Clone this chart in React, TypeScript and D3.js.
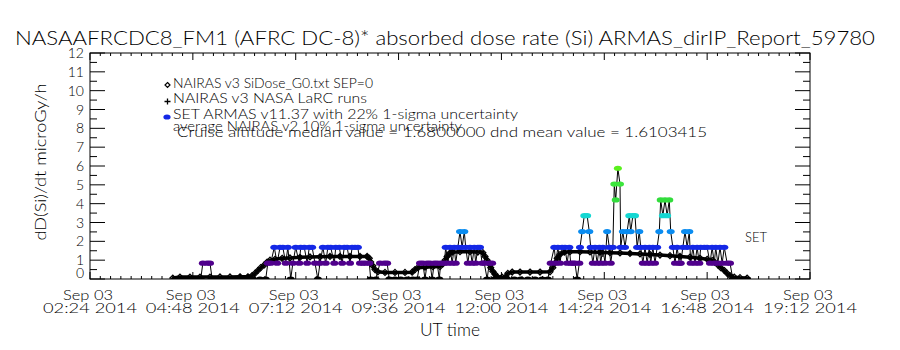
import React from "react";
import * as d3 from "d3";

const TITLE = "NASAAFRCDC8_FM1 (AFRC DC-8)* absorbed dose rate (Si) ARMAS_dirIP_Report_59780";
const Y_LABEL = "dD(Si)/dt microGy/h";
const X_LABEL = "UT time";
const SET_LABEL = "SET";
const DAY = Date.UTC(2014, 8, 3);

// time axis in minutes since 00:00 UT, Sep 03 2014
const xDomainMin = [144, 1152];
const xTickMinutes = [144, 288, 432, 576, 720, 864, 1008, 1152];
const yTicks = [0, 1, 2, 3, 4, 5, 6, 7, 8, 9, 10, 11, 12];

// NAIRAS v3 SiDose_G0 (minute, dose µGy/h)
const nairas: [number, number][] = [
  [260, 0.05], [270, 0.1], [284, 0.1], [298, 0.1], [312, 0.1], [326, 0.11], [340, 0.11], [354, 0.12], [365, 0.12],
  [371, 0.18], [375, 0.3], [379, 0.45], [383, 0.6], [388, 0.75], [392, 0.9], [396, 1.0], [403, 1.05], [413, 1.1],
  [424, 1.12], [438, 1.15], [452, 1.17], [466, 1.18], [480, 1.2], [494, 1.2], [508, 1.2], [522, 1.2], [532, 1.2],
  [535, 1.1], [537, 0.9], [540, 0.7], [543, 0.5], [547, 0.38], [557, 0.35], [571, 0.35], [585, 0.35], [595, 0.36],
  [599, 0.5], [603, 0.6], [613, 0.63], [624, 0.65], [634, 0.66], [638, 0.8], [641, 1.0], [644, 1.2], [647, 1.35],
  [651, 1.42], [662, 1.45], [676, 1.45], [687, 1.43], [694, 1.4], [697, 1.2], [700, 1.0], [703, 0.8], [705, 0.6],
  [708, 0.4], [711, 0.25], [714, 0.12], [721, 0.1], [726, 0.12], [729, 0.3], [735, 0.37], [746, 0.37], [760, 0.37],
  [774, 0.37], [788, 0.38], [792, 0.6], [795, 0.85], [798, 1.1], [802, 1.3], [808, 1.42], [816, 1.45], [830, 1.45],
  [844, 1.44], [858, 1.42], [872, 1.4], [886, 1.38], [900, 1.36], [914, 1.33], [928, 1.3], [942, 1.27], [956, 1.24],
  [970, 1.2], [984, 1.16], [998, 1.1], [1008, 1.05], [1015, 0.98], [1019, 0.88], [1023, 0.75], [1027, 0.6],
  [1032, 0.45], [1036, 0.3], [1040, 0.18], [1046, 0.1], [1054, 0.07], [1064, 0.05],
];

// NAIRAS v3 NASA LaRC runs
const larc: [number, number][] = [[465, 0.85], [862, 1.35]];

// SET ARMAS measurements (minute, dose µGy/h)
const armas: [number, number][] = [
  [263, 0], [273, 0], [283, 0], [292, 0], [299, 0], [302, 0.84], [308, 0.84], [312, 0.84], [315, 0],
  [323, 0], [333, 0], [343, 0], [353, 0], [362, 0], [372, 0], [382, 0], [390, 0],
  [393, 0.84], [397, 0.84], [402, 1.68], [406, 0.84], [410, 1.68], [414, 1.68], [418, 0.84], [421, 1.68],
  [425, 0], [428, 0.84], [432, 1.68], [437, 0.84], [439, 1.68], [444, 1.68], [448, 0.84], [451, 1.68],
  [455, 1.68], [459, 0.84], [463, 0], [466, 0.84], [470, 1.68], [474, 0.84], [477, 1.68], [481, 1.68],
  [486, 0.84], [488, 1.68], [493, 1.68], [497, 0.84], [500, 1.68], [504, 1.68], [508, 0.84], [511, 1.68],
  [515, 1.68], [519, 1.68], [522, 0.84], [526, 0.84], [530, 0.84], [535, 0.84], [537, 0], [544, 0],
  [550, 0.84], [556, 0.84], [560, 0.84], [563, 0], [571, 0], [579, 0], [588, 0], [596, 0],
  [602, 0], [606, 0.84], [610, 0.84], [613, 0], [616, 0.84], [620, 0.84], [623, 0], [626, 0.84], [630, 0.84],
  [633, 0], [635, 0.84], [640, 0.84], [642, 1.68], [645, 0.84], [648, 1.68], [651, 0.84], [654, 1.68],
  [656, 0.84], [659, 1.68], [662, 2.52], [665, 1.68], [668, 2.52], [670, 1.68], [673, 0.84], [676, 1.68],
  [679, 0.84], [682, 1.68], [684, 0.84], [687, 1.68], [690, 1.68], [693, 0.84], [696, 0.84], [700, 0],
  [703, 0.84], [707, 0.84], [710, 0], [718, 0], [728, 0], [738, 0], [747, 0], [757, 0], [767, 0], [777, 0], [785, 0],
  [789, 0.84], [794, 1.68], [796, 0.84], [799, 1.68], [802, 0.84], [805, 1.68], [809, 1.68], [812, 0.84],
  [815, 1.68], [817, 0.84], [820, 0.84], [823, 0.84], [826, 0], [829, 0.84], [830, 1.68], [833, 2.52],
  [836, 3.36], [840, 3.36], [843, 2.52], [845, 1.68], [848, 0.84], [851, 1.68], [854, 0.84], [857, 1.68],
  [859, 0.84], [862, 1.68], [865, 0.84], [868, 2.52], [871, 1.68], [873, 0.84], [876, 1.68], [878, 5.04],
  [880, 4.2], [883, 5.88], [886, 5.04], [887, 1.68], [890, 2.52], [893, 1.68], [896, 2.52], [899, 3.36],
  [901, 2.52], [904, 3.36], [907, 3.36], [910, 1.68], [913, 2.52], [915, 1.68], [918, 0.84], [921, 1.68],
  [924, 0.84], [927, 1.68], [929, 0.84], [932, 1.68], [935, 0.84], [938, 1.68], [941, 2.52], [943, 4.2],
  [946, 3.36], [949, 4.2], [952, 3.36], [955, 4.2], [957, 2.52], [960, 1.68], [963, 0.84], [966, 1.68],
  [969, 0.84], [971, 0.84], [974, 1.68], [977, 2.52], [980, 1.68], [983, 2.52], [985, 0.84], [988, 1.68],
  [991, 0.84], [994, 1.68], [997, 0.84], [999, 1.68], [1004, 1.68], [1008, 1.68], [1012, 0.84], [1015, 1.68],
  [1018, 0.84], [1020, 1.68], [1023, 0.84], [1026, 1.68], [1029, 0.84], [1032, 1.68], [1036, 0.84],
  [1040, 0.84], [1044, 0], [1051, 0], [1058, 0], [1064, 0],
];

const doseThresholds = [0.42, 1.26, 2.1, 2.94, 3.78, 4.62, 5.46];
const doseColors = ["#000000", "#50008c", "#1428e6", "#0a8cf0", "#14d7d2", "#32dc3c", "#3ce63c", "#5af01e"];

const legendLines = [
  "NAIRAS v3 SiDose_G0.txt SEP=0",
  "NAIRAS v3 NASA LaRC runs",
  "SET ARMAS v11.37 with 22% 1-sigma uncertainty",
  "average NAIRAS v2 10% 1-sigma uncertainty",
  "Cruise altitude median value = 1.6800000 dnd mean value = 1.6103415",
];

const FONT = "Lato, 'DejaVu Sans', 'Liberation Sans', sans-serif";
const FW = 300;
const PL = 90, PR = 810, PT = 53, PB = 279;

const toDate = (m: number) => new Date(DAY + m * 60000);

export default function App() {
  const x = d3.scaleUtc().domain(xDomainMin.map(toDate)).range([PL, PR]);
  const y = d3.scaleLinear().domain([0, 12]).range([PB, PT]);
  const color = d3.scaleThreshold<number, string>().domain(doseThresholds).range(doseColors);
  const fmtDay = d3.utcFormat("%b %d");
  const fmtTime = d3.utcFormat("%H:%M %Y");
  const line = d3.line<[number, number]>().x((d) => x(toDate(d[0]))).y((d) => y(d[1]));

  const minorX = d3.range(0, 71).map((i) => xDomainMin[0] + i * 14.4);
  const minorY = d3.range(0, 25).map((i) => i * 0.5);

  let tickPath = "";
  minorX.forEach((m, i) => {
    const px = x(toDate(m));
    const len = i % 10 === 0 ? 7 : 3;
    tickPath += `M${px},${PB}V${PB - len}M${px},${PT}V${PT + len}`;
  });
  minorY.forEach((v, i) => {
    const py = y(v);
    const len = i % 2 === 0 ? 15 : 7;
    tickPath += `M${PL},${py}H${PL + len}M${PR},${py}H${PR - len}`;
  });

  const diamond = (cx: number, cy: number, s: number) =>
    `M${cx},${cy - s}L${cx + s},${cy}L${cx},${cy + s}L${cx - s},${cy}Z`;
  const plus = (cx: number, cy: number, s: number) =>
    `M${cx - s},${cy}H${cx + s}M${cx},${cy - s}V${cy + s}`;

  return (
    <svg width={900} height={350} style={{ position: "absolute", left: 0, top: 0 }} fontFamily={FONT} fontWeight={FW}>
      <rect x={0} y={0} width={900} height={350} fill="#fff" />
      <defs>
        <clipPath id="plotClip">
          <rect x={PL} y={PT} width={PR - PL} height={PB - PT} />
        </clipPath>
      </defs>

      <text x={15} y={45} fontSize={20} textLength={860} lengthAdjust="spacingAndGlyphs">{TITLE}</text>

      {/* data */}
      <g clipPath="url(#plotClip)">
        <path d={line(nairas) || ""} fill="none" stroke="#000" strokeWidth={3.5} />
        {nairas.map((d, i) => (
          <path key={"n" + i} d={diamond(x(toDate(d[0])), y(d[1]), 3)} fill="none" stroke="#000" strokeWidth={1.2} />
        ))}
        {larc.map((d, i) => (
          <path key={"l" + i} d={plus(x(toDate(d[0])), y(d[1]), 3.5)} stroke="#000" strokeWidth={1.2} />
        ))}
        <path d={line(armas) || ""} fill="none" stroke="#000" strokeWidth={1} />
        {armas.map((d, i) => (
          <ellipse key={"a" + i} cx={x(toDate(d[0]))} cy={y(d[1])} rx={4} ry={2.6} fill={color(d[1])} />
        ))}
      </g>

      {/* frame and ticks */}
      <rect x={PL} y={PT} width={PR - PL} height={PB - PT} fill="none" stroke="#000" strokeWidth={1} />
      <path d={tickPath} stroke="#000" strokeWidth={1} fill="none" />

      {/* y tick labels */}
      {yTicks.map((v) => (
        <text key={"yt" + v} x={84} y={Math.min(y(v), 273) + 5} fontSize={14} textAnchor="end">{v}</text>
      ))}
      <text transform={`translate(46,162) rotate(-90)`} fontSize={15} textAnchor="middle" textLength={157} lengthAdjust="spacingAndGlyphs">{Y_LABEL}</text>

      {/* x tick labels */}
      {xTickMinutes.map((m) => {
        const px = x(toDate(m));
        return (
          <g key={"xt" + m}>
            <text x={px - 2} y={300} fontSize={14} textAnchor="middle" textLength={50} lengthAdjust="spacingAndGlyphs">{fmtDay(toDate(m))}</text>
            <text x={px} y={313} fontSize={14} textAnchor="middle" textLength={94} lengthAdjust="spacingAndGlyphs">{fmtTime(toDate(m))}</text>
          </g>
        );
      })}
      <text x={450} y={336} fontSize={17} textAnchor="middle" textLength={60} lengthAdjust="spacingAndGlyphs">{X_LABEL}</text>

      {/* legend */}
      <path d={diamond(167.5, 85, 2.5)} fill="none" stroke="#000" strokeWidth={1.2} />
      <path d={plus(167.5, 101.5, 3)} stroke="#000" strokeWidth={1.3} />
      <ellipse cx={167} cy={117} rx={3.6} ry={2.6} fill={doseColors[2]} />
      <text x={173} y={88} fontSize={13} textLength={200} lengthAdjust="spacingAndGlyphs">{legendLines[0]}</text>
      <text x={173} y={103} fontSize={13} textLength={194} lengthAdjust="spacingAndGlyphs">{legendLines[1]}</text>
      <text x={173} y={119} fontSize={13} textLength={345} lengthAdjust="spacingAndGlyphs">{legendLines[2]}</text>
      <text x={173} y={131} fontSize={13} textLength={289} lengthAdjust="spacingAndGlyphs">{legendLines[3]}</text>
      <text x={177} y={137} fontSize={13} textLength={530} lengthAdjust="spacingAndGlyphs">{legendLines[4]}</text>

      <text x={745} y={242} fontSize={13} textLength={22} lengthAdjust="spacingAndGlyphs">{SET_LABEL}</text>
    </svg>
  );
}
